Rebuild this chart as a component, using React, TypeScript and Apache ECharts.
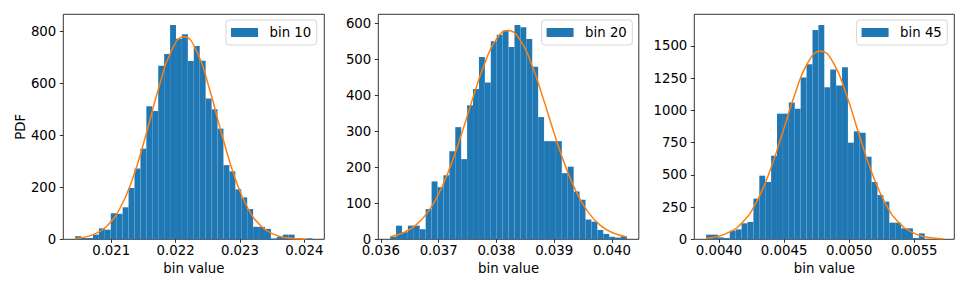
import React, { useEffect, useRef } from "react";
import * as echarts from "echarts";

// ---- data ----
const panelNames = ["bin 10", "bin 20", "bin 45"];
const dataMin = [0.02044, 0.03616, 0.0039011];
const dataMax = [0.024126, 0.04026, 0.0057165];

const counts10 = [
  12, 5, 5, 18, 42, 37, 100, 98, 123, 197, 272, 348, 511, 493, 667, 712, 823, 770, 788, 685,
  742, 686, 541, 499, 425, 285, 261, 192, 161, 116, 48, 48, 40, 3, 10, 18, 18, 0, 0, 4,
];
const counts20 = [
  7, 38, 20, 38, 38, 28, 84, 161, 145, 178, 245, 312, 223, 373, 418, 507, 436, 551, 569, 581,
  535, 596, 590, 557, 480, 340, 273, 273, 273, 184, 202, 133, 110, 55, 49, 26, 15, 7, 5, 9,
];
const counts45 = [
  36, 36, 15, 10, 67, 77, 124, 134, 315, 493, 444, 648, 974, 974, 1061, 1012, 1255, 1356, 1622, 1661,
  1178, 1317, 1193, 1333, 749, 837, 826, 640, 444, 343, 292, 129, 129, 85, 85, 10, 46, 3, 0, 2,
];

const curveX10 = [
  0.02044, 0.02053, 0.02073, 0.02093, 0.02113, 0.02133, 0.02153, 0.02173, 0.02193, 0.02213,
  0.02233, 0.02253, 0.02273, 0.02293, 0.02313, 0.02333, 0.02353, 0.02373, 0.02393, 0.02402,
];
const curveY10 = [
  3.4, 6.0, 18.8, 50.4, 116.4, 230.7, 392.6, 574.1, 721.1, 778,
  721.1, 574.1, 392.6, 230.7, 116.4, 50.4, 18.8, 6.0, 1.65, 0.9,
];
const curveX20 = [
  0.03616, 0.0364, 0.0366, 0.0368, 0.037, 0.0372, 0.0374, 0.0376, 0.0378, 0.038, 0.0382,
  0.0384, 0.0386, 0.0388, 0.039, 0.0392, 0.0394, 0.0396, 0.0398, 0.04, 0.04026,
];
const curveY20 = [
  7.1, 18.8, 38.6, 72.9, 126.4, 201.4, 294.9, 396.8, 490.4, 556.9, 581,
  556.9, 490.4, 396.8, 294.9, 201.4, 126.4, 72.9, 38.6, 18.8, 6.5,
];
const curveX45 = [
  0.0039, 0.00398, 0.00408, 0.00418, 0.00428, 0.00438, 0.00448, 0.00458, 0.00468, 0.00478,
  0.00488, 0.00498, 0.00508, 0.00518, 0.00528, 0.00538, 0.00548, 0.00558, 0.00568, 0.00572,
];
const curveY45 = [
  8.2, 20.2, 55.0, 131.2, 274.0, 500.3, 799.1, 1116.4, 1364.6, 1459,
  1364.6, 1116.4, 799.1, 500.3, 274.0, 131.2, 55.0, 20.2, 6.5, 4.0,
];

const xTicks10 = [0.021, 0.022, 0.023, 0.024];
const xTicks20 = [0.036, 0.037, 0.038, 0.039, 0.04];
const xTicks45 = [0.004, 0.0045, 0.005, 0.0055];
const yTicks10 = [0, 200, 400, 600, 800];
const yTicks20 = [0, 100, 200, 300, 400, 500, 600];
const yTicks45 = [0, 250, 500, 750, 1000, 1250, 1500];
const xDecimals = [3, 3, 4];

// ---- layout / style ----
const FONT = "DejaVu Sans";
const FS = 13.3;
const gridLefts = [63.3, 378.3, 694.3];
const gridWidths = [261, 260.5, 260];
const legendRights = [652.3, 336.7, 21.7];
const BLUE = "#1f77b4";
const ORANGE = "#ff7f0e";

function buildOption() {
  const counts = [counts10, counts20, counts45];
  const curvesX = [curveX10, curveX20, curveX45];
  const curvesY = [curveY10, curveY20, curveY45];
  const xTicks = [xTicks10, xTicks20, xTicks45];
  const yTicks = [yTicks10, yTicks20, yTicks45];

  const grid: any[] = [];
  const xAxis: any[] = [];
  const yAxis: any[] = [];
  const series: any[] = [];
  const legend: any[] = [];

  for (let i = 0; i < 3; i++) {
    const lo = dataMin[i];
    const hi = dataMax[i];
    const pad = 0.05 * (hi - lo);
    const n = counts[i].length;
    const w = (hi - lo) / n;
    const maxY = Math.max(...counts[i], ...curvesY[i]) * 1.05;

    grid.push({
      left: gridLefts[i],
      top: 14.3,
      width: gridWidths[i],
      height: 225,
      show: true,
      borderColor: "#000",
      borderWidth: 0.8,
      backgroundColor: "transparent",
    });

    const dec = xDecimals[i];
    xAxis.push({
      type: "value",
      gridIndex: i,
      min: lo - pad,
      max: hi + pad,
      axisLine: { show: false },
      splitLine: { show: false },
      axisTick: {
        show: true,
        length: 3.5,
        lineStyle: { color: "#000", width: 0.8 },
        customValues: xTicks[i],
      },
      axisLabel: {
        customValues: xTicks[i],
        formatter: (v: number) => v.toFixed(dec),
        margin: 5,
        fontSize: FS,
        fontFamily: FONT,
        color: "#000",
      },
      name: "bin value",
      nameLocation: "middle",
      nameGap: 21,
      nameTextStyle: { fontSize: FS, fontFamily: FONT, color: "#000" },
    });

    yAxis.push({
      type: "value",
      gridIndex: i,
      min: 0,
      max: maxY,
      axisLine: { show: false },
      splitLine: { show: false },
      axisTick: {
        show: true,
        length: 3.5,
        lineStyle: { color: "#000", width: 0.8 },
        customValues: yTicks[i],
      },
      axisLabel: {
        customValues: yTicks[i],
        formatter: (v: number) => String(v),
        margin: 7,
        fontSize: FS,
        fontFamily: FONT,
        color: "#000",
      },
      name: i === 0 ? "PDF" : "",
      nameLocation: "middle",
      nameGap: 35,
      nameTextStyle: { fontSize: FS, fontFamily: FONT, color: "#000" },
    });

    const bins = counts[i].map((c, k) => [lo + k * w, lo + (k + 1) * w, c]);
    series.push({
      type: "custom",
      name: panelNames[i],
      xAxisIndex: i,
      yAxisIndex: i,
      data: bins,
      encode: { x: [0, 1], y: 2 },
      itemStyle: { color: BLUE },
      renderItem: (params: any, api: any) => {
        const p0 = api.coord([api.value(0), api.value(2)]);
        const p1 = api.coord([api.value(1), 0]);
        return {
          type: "rect",
          shape: { x: p0[0], y: p0[1], width: p1[0] - p0[0], height: p1[1] - p0[1] },
          style: { fill: api.visual("color"), stroke: "rgba(255,255,255,0.08)", lineWidth: 0.5 },
        };
      },
      z: 2,
    });

    series.push({
      type: "line",
      name: panelNames[i] + " fit",
      xAxisIndex: i,
      yAxisIndex: i,
      data: curvesX[i].map((x, k) => [x, curvesY[i][k]]),
      smooth: true,
      showSymbol: false,
      symbol: "none",
      lineStyle: { color: ORANGE, width: 1.5 },
      itemStyle: { color: ORANGE },
      z: 3,
    });

    legend.push({
      data: [{ name: panelNames[i], icon: "rect" }],
      top: 20,
      right: legendRights[i],
      orient: "horizontal",
      itemWidth: 27,
      itemHeight: 9,
      padding: [4.5, 5.5, 4.5, 5],
      backgroundColor: "rgba(255,255,255,0.8)",
      borderColor: "#cccccc",
      borderWidth: 0.8,
      borderRadius: 3,
      selectedMode: false,
      textStyle: {
        fontSize: FS,
        fontFamily: FONT,
        color: "#000",
        lineHeight: 16,
        padding: [0, 0, 0, 6.5],
      },
      z: 10,
    });
  }

  return {
    animation: false,
    backgroundColor: "#fff",
    textStyle: { fontFamily: FONT },
    grid,
    xAxis,
    yAxis,
    legend,
    series,
  };
}

export default function App() {
  const ref = useRef<HTMLDivElement>(null);
  useEffect(() => {
    if (!ref.current) return;
    const chart = echarts.init(ref.current, undefined, { renderer: "svg" });
    chart.setOption(buildOption() as any);
    return () => chart.dispose();
  }, []);
  return (
    <div
      ref={ref}
      style={{ position: "fixed", left: 0, top: 0, width: 969, height: 291, background: "#fff" }}
    />
  );
}
